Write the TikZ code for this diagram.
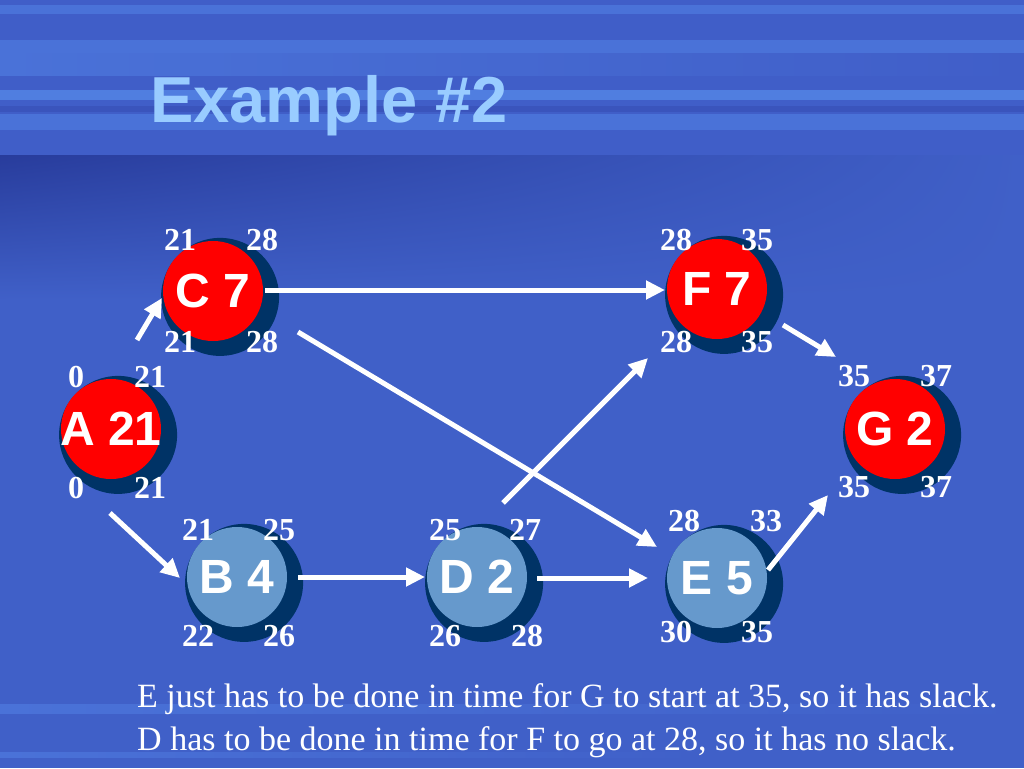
\documentclass[tikz,border=0pt]{standalone}
\usepackage{fontspec}
\setmainfont{Liberation Serif}
\newfontfamily\headfont{Liberation Sans}
\usetikzlibrary{arrows.meta,shadows,shadings}
\definecolor{bodyblue}{RGB}{64,96,200}
\definecolor{bandmid}{RGB}{64,94,200}
\definecolor{bandlight}{RGB}{74,114,216}
\definecolor{bandbright}{RGB}{80,126,224}
\definecolor{banddark}{RGB}{58,84,188}
\definecolor{bandshade}{RGB}{40,60,156}
\definecolor{titleblue}{RGB}{153,204,255}
\definecolor{slackblue}{RGB}{102,153,204}
\definecolor{nodeshadow}{RGB}{0,51,102}
\tikzset{
  task/.style={circle,minimum size=100pt,inner sep=0pt,outer sep=0pt,text=white,
    font=\headfont\bfseries\fontsize{48}{50}\selectfont,
    general shadow={fill=nodeshadow,shadow scale=1.18,shadow xshift=6pt,shadow yshift=-5pt}},
  crit/.style={task,fill=red},
  slack/.style={task,fill=slackblue},
  time/.style={text=white,inner sep=0pt,font=\bfseries\fontsize{32}{34}\selectfont},
  note/.style={text=white,inner sep=0pt,anchor=base west,font=\fontsize{34}{38}\selectfont},
  depend/.style={draw=white,line width=5pt,-{Triangle[length=19pt,width=18pt]}}
}
\begin{document}
\begin{tikzpicture}[x=1pt,y=-1pt]
	\useasboundingbox (0,0) rectangle (1024,768);
	% background
	\fill[bodyblue] (0,0) rectangle (1024,768);
	\fill[bandmid] (0,0) rectangle (1024,155);
	\fill[bandlight] (0,5) rectangle (1024,14);
	\fill[bandlight] (0,40) rectangle (1024,54);
	\shade[left color=bandlight,right color=bandmid] (0,54) rectangle (1024,75);
	\fill[bandbright] (0,90) rectangle (1024,100);
	\fill[banddark] (0,106) rectangle (1024,112);
	\fill[bandlight] (0,114) rectangle (1024,130);
	\shade[upper left=bandshade,upper right=bodyblue,lower left=bodyblue,lower right=bodyblue] (0,155) rectangle (1024,300);
	\shade[left color=bandlight,right color=bodyblue] (0,704) rectangle (1024,713);
	\shade[left color=bandlight,right color=bodyblue] (0,752) rectangle (700,757);
	\node[anchor=base west,inner sep=0pt,text=titleblue,font=\headfont\bfseries\fontsize{65}{68}\selectfont] (title) at (150,122) {Example \#2};
	% activities
	\node[crit] (A) at (111,429) {\makebox[0pt]{A 21}};
	\node[crit] (C) at (213,291) {C 7};
	\node[crit] (F) at (717,289) {F 7};
	\node[crit] (G) at (895,429) {G 2};
	\node[slack] (B) at (237,577) {B 4};
	\node[slack] (D) at (477,577) {D 2};
	\node[slack] (E) at (717,578) {E 5};
	% early start/finish above, late start/finish below
	\node[time] (A-es) at (76,377) {0};   \node[time] (A-ef) at (150,377) {21};
	\node[time] (A-ls) at (76,488) {0};   \node[time] (A-lf) at (150,488) {21};
	\node[time] (C-es) at (180,240) {21}; \node[time] (C-ef) at (262,240) {28};
	\node[time] (C-ls) at (180,342) {21}; \node[time] (C-lf) at (262,342) {28};
	\node[time] (B-es) at (198,530) {21}; \node[time] (B-ef) at (279,530) {25};
	\node[time] (B-ls) at (198,636) {22}; \node[time] (B-lf) at (279,636) {26};
	\node[time] (D-es) at (445,530) {25}; \node[time] (D-ef) at (525,530) {27};
	\node[time] (D-ls) at (445,636) {26}; \node[time] (D-lf) at (527,636) {28};
	\node[time] (E-es) at (684,521) {28}; \node[time] (E-ef) at (766,521) {33};
	\node[time] (E-ls) at (676,632) {30}; \node[time] (E-lf) at (757,632) {35};
	\node[time] (F-es) at (676,240) {28}; \node[time] (F-ef) at (757,240) {35};
	\node[time] (F-ls) at (676,342) {28}; \node[time] (F-lf) at (757,342) {35};
	\node[time] (G-es) at (854,376) {35}; \node[time] (G-ef) at (936,376) {37};
	\node[time] (G-ls) at (854,487) {35}; \node[time] (G-lf) at (936,487) {37};
	% dependencies
	\draw[depend] ([shift={(26,-89)}]A.center) -- ([shift={(-51,7)}]C.center);
	\draw[depend] ([shift={(-1,84)}]A.center) -- ([shift={(-57,1)}]B.center);
	\draw[depend] ([shift={(52,-1)}]C.center) -- ([shift={(-52,1)}]F.center);
	\draw[depend] ([shift={(85,41)}]C.center) -- ([shift={(-60,-31)}]E.center);
	\draw[depend] ([shift={(61,0)}]B.center) -- ([shift={(-52,0)}]D.center);
	\draw[depend] ([shift={(60,1)}]D.center) -- ([shift={(-69,0)}]E.center);
	\draw[depend] ([shift={(26,-74)}]D.center) -- ([shift={(-69,69)}]F.center);
	\draw[depend] ([shift={(66,36)}]F.center) -- ([shift={(-59,-72)}]G.center);
	\draw[depend] ([shift={(51,-8)}]E.center) -- ([shift={(-67,66)}]G.center);
	% remarks
	\node[note] (note1) at (137,707) {E just has to be done in time for G to start at 35, so it has slack.};
	\node[note] (note2) at (137,750) {D has to be done in time for F to go at 28, so it has no slack.};
\end{tikzpicture}
\end{document}
